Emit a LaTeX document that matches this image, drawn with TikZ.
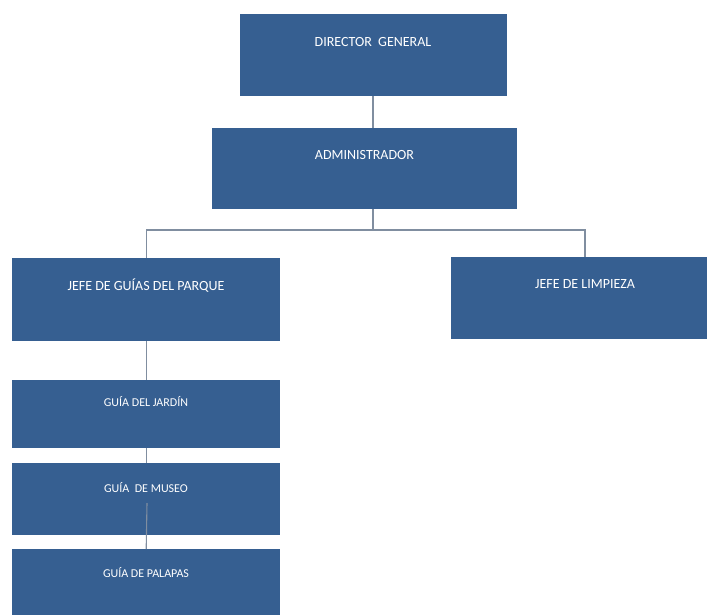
\documentclass[tikz,border=0pt]{standalone}
\usepackage{fontspec}
\setmainfont{Carlito}
\definecolor{boxblue}{RGB}{54,95,145}
\definecolor{linegrey}{RGB}{128,142,160}
\tikzset{
  orgbox/.style={draw=none, fill=boxblue, inner sep=0pt},
  bigtext/.style={text=white, font=\fontsize{14}{16}\selectfont, inner sep=0pt},
  smalltext/.style={text=white, font=\fontsize{12}{14}\selectfont, inner sep=0pt},
  conn/.style={draw=linegrey, line width=1.1pt}
}
\begin{document}
\begin{tikzpicture}[x=1pt,y=-1pt]
\useasboundingbox (0,0) rectangle (707,614);
% boxes
\node[orgbox, anchor=north west, minimum width=267pt, minimum height=82pt] (dir) at (240,14) {};
\node[orgbox, anchor=north west, minimum width=305pt, minimum height=81pt] (adm) at (212,128) {};
\node[orgbox, anchor=north west, minimum width=268pt, minimum height=83pt] (jg) at (12,258) {};
\node[orgbox, anchor=north west, minimum width=268pt, minimum height=82pt] (jl) at (451,257) {};
\node[orgbox, anchor=north west, minimum width=268pt, minimum height=68pt] (gj) at (12,380) {};
\node[orgbox, anchor=north west, minimum width=268pt, minimum height=72pt] (gm) at (12,463) {};
\node[orgbox, anchor=north west, minimum width=268pt, minimum height=70pt] (gp) at (12,549) {};
% texts
\node[bigtext] (tdir) at (373,42) {DIRECTOR\ \ GENERAL};
\node[bigtext] (tadm) at (364.5,155) {ADMINISTRADOR};
\node[bigtext] (tjg) at (146,286) {JEFE DE GUÍAS DEL PARQUE};
\node[bigtext] (tjl) at (585,284) {JEFE DE LIMPIEZA};
\node[smalltext] (tgj) at (146,402) {GUÍA\ DEL JARDÍN};
\node[smalltext] (tgm) at (146,488) {GUÍA\ \ DE MUSEO};
\node[smalltext] (tgp) at (146,573) {GUÍA\ DE PALAPAS};
% connector helpers
\coordinate (admtop) at (373,128);
\coordinate (admbot) at (373,209);
\coordinate (bus) at (373,230);
\coordinate (jltop) at (585,257);
\coordinate (gmmid) at (147,503);
% connectors
\draw[conn] (dir.south -| admtop) -- (admtop);
\draw[conn] (admbot) -- (bus);
\draw[conn] (bus) -| (jg.north);
\draw[conn] (bus) -| (jltop);
\draw[conn] (jg.south) -- (gj.north);
\draw[conn] (gj.south) -- (gm.north);
\draw[conn] (gmmid) -- (gp.north);
\end{tikzpicture}
\end{document}
